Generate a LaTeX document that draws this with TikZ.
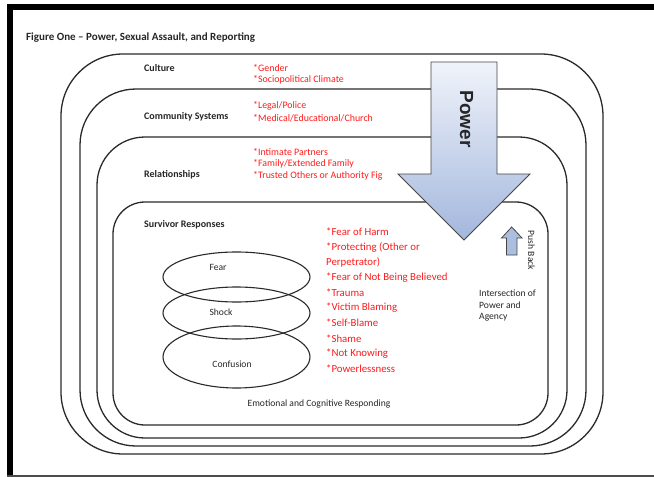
\documentclass[tikz,border=0pt]{standalone}
\usepackage{fontspec}
\setmainfont{Carlito}
\newfontfamily\arialfont{Liberation Sans}
\usetikzlibrary{shapes.geometric}
\definecolor{ringcol}{HTML}{2A2A2A}
\definecolor{redtxt}{HTML}{FF1A1A}
\definecolor{arrowtop}{HTML}{F0F3FA}
\definecolor{arrowbot}{HTML}{A3B7DD}
\definecolor{arrowline}{HTML}{454545}
\definecolor{txtcol}{HTML}{262626}
\tikzset{
  ring/.style={draw=ringcol, line width=1.3pt},
  lvl/.style={anchor=west, inner sep=0pt, font=\fontsize{10}{12}\selectfont\bfseries, text=txtcol},
  redsmall/.style={anchor=west, inner sep=0pt, font=\fontsize{9.9}{12}\selectfont, text=redtxt},
  redbig/.style={anchor=west, inner sep=0pt, font=\fontsize{10.8}{13}\selectfont, text=redtxt},
  plain/.style={inner sep=0pt, font=\fontsize{9.6}{11}\selectfont, text=txtcol},
  ell/.style={draw=ringcol, line width=1.1pt, ellipse, inner sep=0pt}
}
\begin{document}
\begin{tikzpicture}[x=1pt,y=-1pt]
\useasboundingbox (0,0) rectangle (654,477);
% frame
\fill[black] (7,4) rectangle (654,10);
\fill[black] (7,4) rectangle (13,477);
\draw[gray!60!black, line width=1.2pt] (7,476) -- (654,476);
% title
\node[lvl, font=\fontsize{11}{13}\selectfont\bfseries] (title) at (26,38) {Figure One – Power, Sexual Assault, and Reporting};
% rings
\draw[ring, rounded corners=62pt] (61,54) rectangle (603,454);
\draw[ring, rounded corners=56pt] (80,89) rectangle (586,446);
\draw[ring, rounded corners=48pt] (97,137) rectangle (567,438);
\draw[ring, rounded corners=32pt] (113,202) rectangle (548,425);
% level labels
\node[lvl] (culture) at (144,68) {Culture};
\node[lvl] (community) at (144,117) {Community Systems};
\node[lvl] (relationships) at (144,175) {Relationships};
\node[lvl] (survivor) at (144,225) {Survivor Responses};
% red upper
\node[redsmall] (gender) at (253,68) {*Gender};
\node[redsmall] (socio) at (253,80) {*Sociopolitical Climate};
\node[redsmall] (legal) at (253,106) {*Legal/Police};
\node[redsmall] (medical) at (253,118) {*Medical/Educational/Church};
\node[redsmall] (intimate) at (253,152) {*Intimate Partners};
\node[redsmall] (family) at (253,164) {*Family/Extended Family};
\node[redsmall] (trusted) at (253,176) {*Trusted Others or Authority Fig};
% red list
\node[redbig] (r1) at (326,232) {*Fear of Harm};
\node[redbig] (r2) at (326,247.2) {*Protecting (Other or};
\node[redbig] (r3) at (326,262.4) {Perpetrator)};
\node[redbig] (r4) at (326,277.6) {*Fear of Not Being Believed};
\node[redbig] (r5) at (326,292.8) {*Trauma};
\node[redbig] (r6) at (326,308) {*Victim Blaming};
\node[redbig] (r7) at (326,323.2) {*Self-Blame};
\node[redbig] (r8) at (326,338.4) {*Shame};
\node[redbig] (r9) at (326,353.6) {*Not Knowing};
\node[redbig] (r10) at (326,368.8) {*Powerlessness};
% ellipses
\node[ell, minimum width=147pt, minimum height=50pt] (fearE) at (236.5,277) {};
\node[ell, minimum width=147pt, minimum height=52pt] (shockE) at (236.5,313) {};
\node[ell, minimum width=147pt, minimum height=62pt] (confE) at (236.5,357) {};
\node[plain] (fear) at (218,267) {Fear};
\node[plain] (shock) at (221,312) {Shock};
\node[plain] (conf) at (232,364) {Confusion};
% bottom label
\node[plain] (emo) at (319,404) {Emotional and Cognitive Responding};
% intersection
\node[plain, anchor=north west, align=left, font=\fontsize{9.6}{11.5}\selectfont] (inter) at (479,290) {Intersection of\\Power and\\Agency};
% power arrow
\shade[top color=arrowtop, bottom color=arrowbot]
  (431,62) -- (497,62) -- (497,174) -- (530,174) -- (464,240) -- (398,174) -- (431,174) -- cycle;
\draw[arrowline, line width=0.9pt, line join=miter]
  (431,62) -- (497,62) -- (497,174) -- (530,174) -- (464,240) -- (398,174) -- (431,174) -- cycle;
\node[rotate=-90, inner sep=0pt, font=\arialfont\fontsize{19}{20}\selectfont\bfseries, text=txtcol] (power) at (466.5,119) {Power};
% push back arrow
\draw[arrowline, fill=arrowbot!90!white, line width=0.8pt]
  (506.5,255) -- (517,255) -- (517,238) -- (522,238) -- (511.7,227) -- (501.5,238) -- (506.5,238) -- cycle;
\node[plain, rotate=-90] (push) at (531.5,250.5) {Push Back};
\end{tikzpicture}
\end{document}
